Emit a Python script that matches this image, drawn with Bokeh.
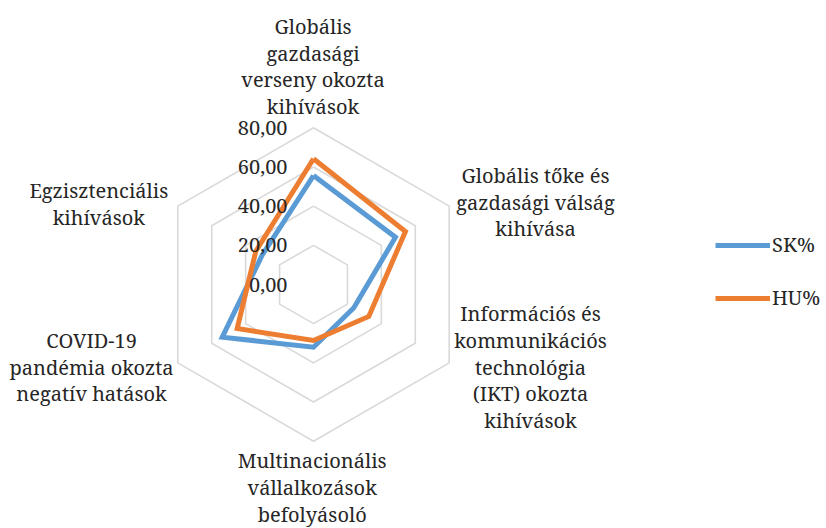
import numpy as np
from bokeh.plotting import figure
from bokeh.models import Range1d, Legend, LegendItem
from bokeh.core.properties import value
from bokeh.embed import file_html
from bokeh.resources import INLINE

# ---------------- data ----------------
categories = [
    "Globális\ngazdasági\nverseny okozta\nkihívások",
    "Globális tőke és\ngazdasági válság\nkihívása",
    "Információs és\nkommunikációs\ntechnológia\n(IKT) okozta\nkihívások",
    "Multinacionális\nvállalkozások\nbefolyásoló",
    "COVID-19\npandémia okozta\nnegatív hatások",
    "Egzisztenciális\nkihívások",
]
sk_values = [55.6, 48.3, 23.8, 32.0, 53.8, 30.2]
hu_values = [64.2, 54.2, 32.6, 28.6, 45.0, 34.0]
series_names = ["SK%", "HU%"]
grid_levels = [20, 40, 60, 80]
tick_values = [0, 20, 40, 60, 80]
tick_labels = ["0,00", "20,00", "40,00", "60,00", "80,00"]

# ---------------- layout ----------------
W, H = 826, 528
CX, CY = 313, 284                  # centre in page pixels
SCALE = 156.7 / 80.0               # pixels per value unit


def page(X, Y):
    """page pixel position -> data coordinates"""
    return ((X - CX) / SCALE, (CY - Y) / SCALE)


# label block centres (page pixels)
label_pos = [page(312.5, 66), page(535, 201.7), page(530, 366.7),
             page(311.7, 487), page(91, 366.7), page(98.3, 203.3)]

FONT_NAME = "Noto Serif"
FONT = value(FONT_NAME)
FS = "20px"
TXT = "#262626"

n = len(categories)
ang = np.deg2rad(90 - np.arange(n) * 360.0 / n)

p = figure(width=W, height=H, output_backend="svg", toolbar_location=None,
           x_axis_type=None, y_axis_type=None, min_border=0,
           x_range=Range1d(-CX / SCALE, (W - CX) / SCALE),
           y_range=Range1d(-(H - CY) / SCALE, CY / SCALE))
p.grid.visible = False
p.outline_line_color = None
p.background_fill_color = "white"
p.border_fill_color = "white"

# grid hexagons
gx = [list(np.append(lv * np.cos(ang), lv * np.cos(ang[0]))) for lv in grid_levels]
gy = [list(np.append(lv * np.sin(ang), lv * np.sin(ang[0]))) for lv in grid_levels]
p.multi_line(gx, gy, line_color="#D9D9D9", line_width=1.6)

# series
def closed(vals):
    v = np.array(vals, dtype=float)
    xs = v * np.cos(ang)
    ys = v * np.sin(ang)
    return list(np.append(xs, xs[0])), list(np.append(ys, ys[0]))

sx, sy = closed(sk_values)
hx, hy = closed(hu_values)
r_sk = p.line(sx, sy, line_color="#5B9BD5", line_width=5, line_join="miter")
r_hu = p.line(hx, hy, line_color="#ED7D31", line_width=5, line_join="miter")

# tick labels (left of the vertical axis)
tx_off = (287 - CX) / SCALE
p.text(x=[tx_off] * len(tick_values), y=tick_values, text=tick_labels,
       text_align="right", text_baseline="middle", text_font=FONT,
       text_font_size=FS, text_color=TXT)

# category labels
p.text(x=[q[0] for q in label_pos], y=[q[1] for q in label_pos], text=categories,
       text_align="center", text_baseline="middle", text_font=FONT,
       text_font_size=FS, text_color=TXT, text_line_height=0.99)

legend = Legend(items=[LegendItem(label=series_names[0], renderers=[r_sk]),
                       LegendItem(label=series_names[1], renderers=[r_hu])],
                location=(715, 528 - 311), orientation="vertical",
                border_line_color=None, background_fill_alpha=0,
                padding=0, margin=0, spacing=26,
                glyph_width=55, glyph_height=20, label_height=20,
                label_standoff=2, label_text_font=FONT_NAME,
                label_text_font_size=FS, label_text_color=TXT)
p.add_layout(legend)

open("out.html", "w").write(file_html(p, INLINE))
